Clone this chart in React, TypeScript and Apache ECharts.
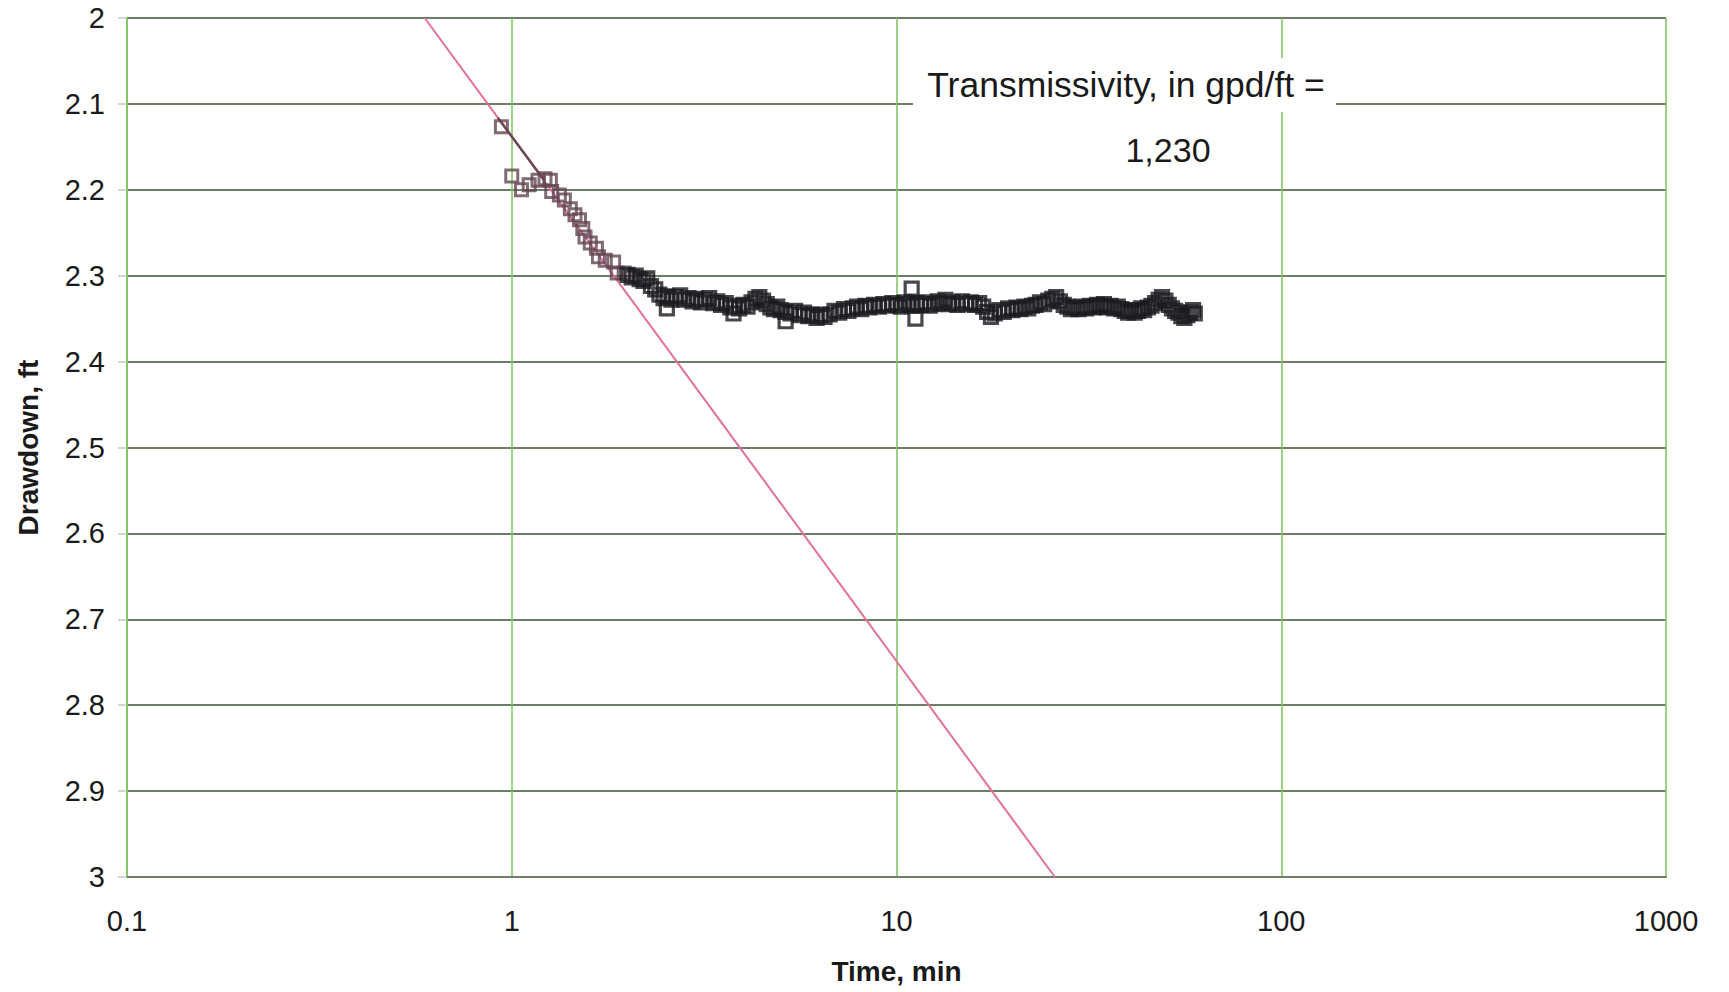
import React, { useEffect, useRef } from "react";
import * as echarts from "echarts";

// Tick labels
const xTicks = [0.1, 1, 10, 100, 1000];
const yMin = 2;
const yMax = 3;

// Straight-line fit (Cooper-Jacob), endpoints read at plot edges
const fitLine: number[][] = [
  [0.594, 2.0],
  [25.8, 3.0],
];
// Short dark segment on the fit through the first points
const fitSegment: number[][] = [
  [0.92, 2.116],
  [1.21, 2.188],
];

// Early measured drawdown (time min, drawdown ft)
const earlyPoints: number[][] = [
  [0.94, 2.1265], [1.0, 2.184], [1.06, 2.2], [1.11, 2.194], [1.17, 2.189],
  [1.22, 2.187], [1.26, 2.189], [1.27, 2.202], [1.33, 2.206], [1.37, 2.212],
  [1.42, 2.222], [1.46, 2.229], [1.5, 2.235], [1.53, 2.245], [1.55, 2.255],
  [1.6, 2.262], [1.66, 2.268], [1.68, 2.278], [1.75, 2.282], [1.84, 2.284],
  [1.88, 2.297], [1.96, 2.297],
];

// Later measured drawdown (time min, drawdown ft)
const latePoints: number[][] = [
  [2.0, 2.299], [2.05, 2.302], [2.1, 2.3], [2.15, 2.304], [2.2, 2.306],
  [2.25, 2.303], [2.3, 2.312], [2.36, 2.316], [2.42, 2.322], [2.48, 2.326],
  [2.53, 2.338], [2.54, 2.324], [2.6, 2.328], [2.67, 2.325], [2.74, 2.323],
  [2.81, 2.328], [2.88, 2.326], [2.95, 2.33], [3.02, 2.327], [3.1, 2.331],
  [3.18, 2.328], [3.26, 2.326], [3.34, 2.332], [3.42, 2.33], [3.5, 2.334],
  [3.6, 2.332], [3.7, 2.337], [3.77, 2.344], [3.8, 2.335], [3.9, 2.338],
  [4.0, 2.334], [4.1, 2.336], [4.2, 2.331], [4.3, 2.327], [4.4, 2.325],
  [4.5, 2.329], [4.6, 2.333], [4.7, 2.337], [4.8, 2.339], [4.9, 2.336],
  [5.0, 2.34], [5.15, 2.353], [5.15, 2.342], [5.3, 2.344], [5.45, 2.341],
  [5.6, 2.346], [5.75, 2.343], [5.9, 2.347], [6.05, 2.345], [6.2, 2.349],
  [6.35, 2.346], [6.5, 2.348], [6.7, 2.345], [6.9, 2.341], [7.1, 2.343],
  [7.3, 2.339], [7.5, 2.341], [7.7, 2.338], [7.9, 2.336], [8.1, 2.339],
  [8.3, 2.335], [8.5, 2.337], [8.75, 2.334], [9.0, 2.336], [9.25, 2.333],
  [9.5, 2.335], [9.75, 2.332], [10, 2.334], [10.25, 2.336], [10.5, 2.331],
  [10.75, 2.333], [10.95, 2.315], [11, 2.335], [11.2, 2.35], [11.3, 2.332],
  [11.6, 2.334], [11.9, 2.331], [12.2, 2.335], [12.5, 2.333], [12.8, 2.33],
  [13.1, 2.332], [13.4, 2.328], [13.7, 2.333], [14, 2.331], [14.4, 2.334],
  [14.8, 2.33], [15.2, 2.333], [15.6, 2.331], [16, 2.334], [16.4, 2.332],
  [16.8, 2.336], [17.2, 2.342], [17.6, 2.348], [18, 2.344], [18.5, 2.34],
  [19, 2.342], [19.5, 2.338], [20, 2.34], [20.5, 2.337], [21, 2.339],
  [21.5, 2.336], [22, 2.338], [22.5, 2.335], [23, 2.334], [23.6, 2.331],
  [24.2, 2.333], [24.8, 2.329], [25.4, 2.327], [26, 2.325], [26.6, 2.33],
  [27.2, 2.334], [27.8, 2.336], [28.4, 2.339], [29, 2.337], [29.7, 2.339],
  [30.4, 2.336], [31.1, 2.338], [31.8, 2.335], [32.5, 2.337], [33.2, 2.334],
  [33.9, 2.336], [34.6, 2.333], [35.3, 2.337], [36, 2.335], [36.8, 2.338],
  [37.6, 2.336], [38.4, 2.339], [39.2, 2.341], [40, 2.343], [40.8, 2.34],
  [41.6, 2.343], [42.4, 2.341], [43.2, 2.338], [44, 2.34], [45, 2.337],
  [46, 2.335], [47, 2.332], [48, 2.328], [49, 2.325], [50, 2.329],
  [51, 2.334], [52, 2.338], [53, 2.341], [54, 2.343], [55, 2.347],
  [56, 2.349], [57, 2.346], [58, 2.343], [59, 2.34], [59.6, 2.344],
];

const annotationTitle = "Transmissivity, in gpd/ft =";
const annotationValue = "1,230";

const FONT = "'Liberation Sans', Arial, Helvetica, sans-serif";

export default function App() {
  const ref = useRef<HTMLDivElement>(null);

  useEffect(() => {
    if (!ref.current) return;
    const chart = echarts.init(ref.current, null, { renderer: "svg" });
    const hGrid = "#6f7d66";
    const vGrid = "#7dc35e";
    chart.setOption({
      animation: false,
      backgroundColor: "#ffffff",
      textStyle: { fontFamily: FONT },
      grid: { left: 127, right: 63, top: 18, bottom: 115, containLabel: false },
      xAxis: {
        type: "log",
        logBase: 10,
        min: xTicks[0],
        max: xTicks[xTicks.length - 1],
        name: "Time, min",
        nameLocation: "middle",
        nameGap: 80,
        nameTextStyle: { fontSize: 28, fontWeight: "bold", color: "#1a1a1a", fontFamily: FONT },
        axisLine: { show: true, lineStyle: { color: hGrid, width: 2 } },
        axisTick: { show: false },
        axisLabel: {
          fontSize: 29,
          color: "#1a1a1a",
          margin: 29,
          fontFamily: FONT,
          formatter: (v: number) => String(v),
        },
        splitLine: { show: true, lineStyle: { color: vGrid, width: 1.5 } },
        minorTick: { show: false },
        minorSplitLine: { show: false },
      },
      yAxis: {
        type: "value",
        inverse: true,
        min: yMin,
        max: yMax,
        interval: 0.1,
        name: "Drawdown, ft",
        nameLocation: "middle",
        nameRotate: 90,
        nameGap: 85,
        nameTextStyle: { fontSize: 28, fontWeight: "bold", color: "#1a1a1a", fontFamily: FONT },
        axisLine: { show: true, lineStyle: { color: vGrid, width: 1.5 } },
        axisTick: { show: true, length: 9, lineStyle: { color: "#c4cabc", width: 1.5 } },
        axisLabel: {
          fontSize: 29,
          color: "#1a1a1a",
          margin: 22,
          fontFamily: FONT,
          formatter: (v: number) => String(Math.round(v * 10) / 10),
        },
        splitLine: { show: true, lineStyle: { color: hGrid, width: 2 } },
      },
      series: [
        {
          type: "line",
          data: fitLine,
          symbol: "none",
          lineStyle: { color: "#e2719b", width: 2 },
          z: 2,
        },
        {
          type: "line",
          data: fitSegment,
          symbol: "none",
          lineStyle: { color: "#6b4a57", width: 2.5 },
          z: 3,
        },
        {
          type: "scatter",
          data: earlyPoints,
          symbol: "rect",
          symbolSize: 12,
          itemStyle: { color: "rgba(0,0,0,0)", borderColor: "#644652", borderWidth: 3 },
          z: 4,
        },
        {
          type: "scatter",
          data: latePoints,
          symbol: "rect",
          symbolSize: 13,
          itemStyle: { color: "rgba(0,0,0,0)", borderColor: "#1a1a1f", borderWidth: 3.2 },
          z: 5,
        },
      ],
      graphic: [
        {
          type: "rect",
          shape: { x: 913, y: 58, width: 423, height: 54 },
          style: { fill: "#ffffff" },
          z: 10,
        },
        {
          type: "text",
          x: 1126,
          y: 85,
          style: {
            text: annotationTitle,
            fontSize: 35.5,
            fontFamily: FONT,
            fill: "#1a1a1a",
            align: "center",
            verticalAlign: "middle",
          },
          z: 11,
        },
        {
          type: "text",
          x: 1168,
          y: 150,
          style: {
            text: annotationValue,
            fontSize: 34,
            fontFamily: FONT,
            fill: "#1a1a1a",
            align: "center",
            verticalAlign: "middle",
          },
          z: 11,
        },
      ],
    });
    return () => chart.dispose();
  }, []);

  return (
    <div
      ref={ref}
      style={{ position: "absolute", left: 0, top: 0, width: 1729, height: 992 }}
    />
  );
}
